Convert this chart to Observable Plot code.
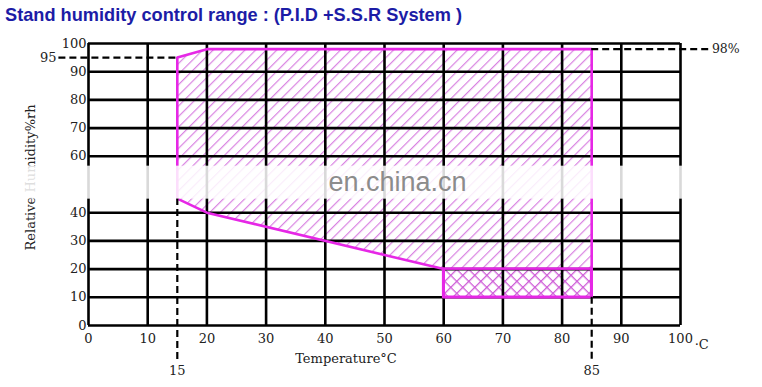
<!DOCTYPE html>
<html>
<head>
<meta charset="utf-8">
<script src="https://cdn.jsdelivr.net/npm/d3@7"></script>
<script src="https://cdn.jsdelivr.net/npm/@observablehq/plot@0.6"></script>
<style>
  body { margin: 0; background: #fff; }
  #title { font: bold 18.2px "Liberation Sans", Arial, sans-serif; color: #1c1ca6; height: 28px; line-height: 30px; padding-left: 5px; white-space: nowrap; }
</style>
</head>
<body>
<div id="title">Stand humidity control range : (P.I.D +S.S.R System )</div>
<div id="chart"></div>
<script>
// ---- data ----
const xTicks = [0, 10, 20, 30, 40, 50, 60, 70, 80, 90, 100];
const yTicks = [0, 10, 20, 30, 40, 60, 70, 80, 90, 100];
const gridY = [0, 10, 20, 30, 40, 60, 70, 80, 90, 100];
// control range outline (temperature °C, humidity %rh)
const rangeT = [15, 15, 20, 85, 85, 60, 60, 20, 15];
const rangeH = [45, 95, 98, 98, 10, 10, 20, 40, 45];
// cross-hatched low-humidity zone
const lowT = [60, 85];
const lowH = [10, 20];
// reference values
const refTemps = [15, 85];
const refTempLabels = ["15", "85"];
const refHums = [95, 98];
const refHumLabels = ["95", "98%"];
const xLabel = "Temperature°C";
const yLabel = "Relative Humidity%rh";
const unitLabel = "·C";
const watermark = "en.china.cn";

const range = rangeT.map((t, i) => ({t, h: rangeH[i]}));

const pink = "#e627e6";
const chart = Plot.plot({
  width: 762,
  height: 359,
  marginTop: 15,
  marginBottom: 62,
  marginLeft: 88,
  marginRight: 82,
  x: {domain: [0, 100], label: null},
  y: {domain: [0, 100], label: null},
  style: {fontFamily: "'DejaVu Serif', serif", fontSize: "13px", color: "#222", background: "white"},
  marks: [
    // hatched fill of the control range
    Plot.line(range, {x: "t", y: "h", fill: "url(#hatch)", stroke: "none"}),
    Plot.rect([0], {x1: lowT[0], x2: lowT[1], y1: lowH[0], y2: lowH[1], fill: "url(#cross)"}),
    // grid
    Plot.ruleX(xTicks, {x: d => d, y1: 0, y2: 100, stroke: "black", strokeWidth: 2.6}),
    Plot.ruleY(gridY, {y: d => d, x1: 0, x2: 100, stroke: "black", strokeWidth: 2.6}),
    // outlines
    Plot.line(range, {x: "t", y: "h", stroke: pink, strokeWidth: 2.6}),
    Plot.rect([0], {x1: lowT[0], x2: lowT[1], y1: lowH[0], y2: lowH[1], fill: "none", stroke: pink, strokeWidth: 2.6}),
    // dashed reference lines
    Plot.ruleY([refHums[0]], {y: d => d, x1: -5, x2: 15, stroke: "black", strokeWidth: 2.4, strokeDasharray: "7,4"}),
    Plot.ruleY([refHums[1]], {y: d => d, x1: 85, x2: 105, stroke: "black", strokeWidth: 2.4, strokeDasharray: "7,4"}),
    Plot.ruleX([refTemps[0]], {x: d => d, y1: 45, y2: -13, stroke: "black", strokeWidth: 2.2, strokeDasharray: "7,4"}),
    Plot.ruleX([refTemps[1]], {x: d => d, y1: 10, y2: -12, stroke: "black", strokeWidth: 2.2, strokeDasharray: "7,4"}),
    Plot.text([refHumLabels[0]], {x: -5.4, y: refHums[0], text: d => d, textAnchor: "end"}),
    Plot.text([refHumLabels[1]], {x: 105.3, y: refHums[1], text: d => d, textAnchor: "start", fontSize: 12.5}),
    Plot.text(refTemps, {x: d => d, y: -16, text: (d, i) => refTempLabels[i]}),
    // axes
    Plot.axisX(xTicks, {tickSize: 0, tickPadding: 8, fontSize: 13}),
    Plot.axisY(yTicks, {tickSize: 0, tickPadding: 2, fontSize: 13}),
    Plot.text([unitLabel], {x: 102.4, y: -6.8, text: d => d, textAnchor: "start", fontSize: 13}),
    Plot.text([xLabel], {x: 43.5, y: -11.7, text: d => d, fontSize: 13}),
    Plot.text([yLabel], {x: -9.8, y: 52.5, text: d => d, rotate: -90, fontSize: 13}),
    // watermark band
    Plot.rect([0], {x1: -15, x2: 115, y1: 44.8, y2: 56.5, fill: "white", fillOpacity: 0.85}),
    Plot.text([watermark], {x: 52.2, y: 50.6, text: d => d, fill: "#8c8c8c", fontSize: 27, fontFamily: "'Liberation Sans', Arial, sans-serif"})
  ]
});

const svg = d3.select(chart);
const defs = svg.insert("defs", ":first-child");
const hs = 7.5;
const hatch = defs.append("pattern").attr("id", "hatch").attr("patternUnits", "userSpaceOnUse")
  .attr("width", hs).attr("height", hs).attr("patternTransform", "rotate(45)");
hatch.append("rect").attr("width", hs).attr("height", hs).attr("fill", "white");
hatch.append("rect").attr("x", 0).attr("y", 0).attr("width", 1.2).attr("height", hs).attr("fill", "#d983e2");
const cs = 8.5;
const cross = defs.append("pattern").attr("id", "cross").attr("patternUnits", "userSpaceOnUse")
  .attr("width", cs).attr("height", cs).attr("patternTransform", "rotate(45)");
cross.append("rect").attr("width", cs).attr("height", cs).attr("fill", "white");
cross.append("rect").attr("x", 0).attr("y", 0).attr("width", 1.3).attr("height", cs).attr("fill", "#cf5fd8");
cross.append("rect").attr("x", 0).attr("y", 0).attr("width", cs).attr("height", 1.3).attr("fill", "#cf5fd8");

document.getElementById("chart").appendChild(chart);
</script>
</body>
</html>
